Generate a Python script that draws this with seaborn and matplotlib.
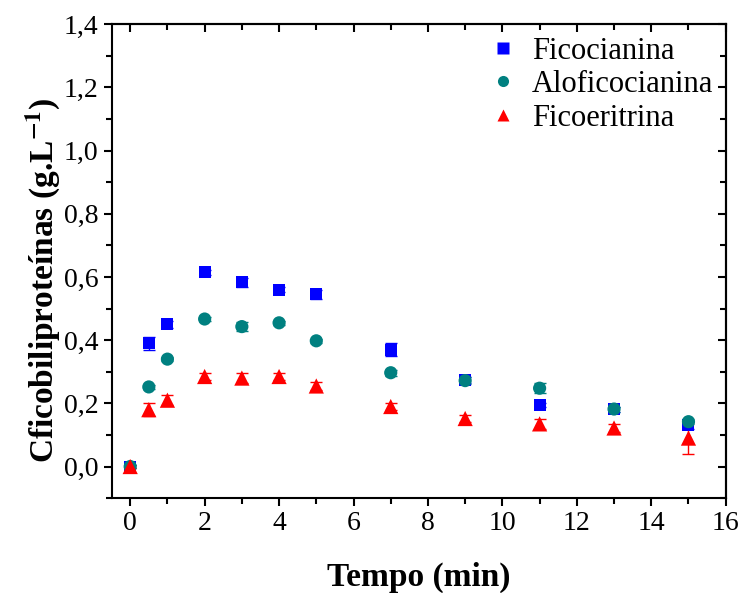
import numpy as np
import pandas as pd
import matplotlib
matplotlib.use("Agg")
import matplotlib.pyplot as plt
from matplotlib.ticker import MultipleLocator, FuncFormatter
import seaborn as sns

# Tempo (min)
tempo = [0, 0.5, 1, 2, 3, 4, 5, 7, 9, 11, 13, 15]

# Concentrations (g/L)
ficocianina = [0.0, 0.39, 0.45, 0.615, 0.583, 0.56, 0.545, 0.37, 0.275, 0.195, 0.182, 0.13]
aloficocianina = [0.0, 0.252, 0.34, 0.467, 0.443, 0.455, 0.398, 0.297, 0.272, 0.248, 0.182, 0.142]
ficoeritrina = [0.0, 0.18, 0.21, 0.285, 0.28, 0.285, 0.255, 0.19, 0.152, 0.135, 0.122, 0.09]

# standard deviations
err_fc = [0.005, 0.02, 0.01, 0.008, 0.015, 0.008, 0.015, 0.02, 0.01, 0.006, 0.008, 0.01]
err_afc = [0.005, 0.006, 0.006, 0.006, 0.015, 0.006, 0.006, 0.01, 0.012, 0.015, 0.008, 0.008]
err_fe = [0.005, 0.02, 0.015, 0.012, 0.015, 0.012, 0.012, 0.012, 0.012, 0.015, 0.012, 0.05]

series = ["Ficocianina", "Aloficocianina", "Ficoeritrina"]
colors = {"Ficocianina": "#0000FF", "Aloficocianina": "#008080", "Ficoeritrina": "#FF0000"}
markers = {"Ficocianina": "s", "Aloficocianina": "o", "Ficoeritrina": "^"}
sizes = {"Ficocianina": 75, "Aloficocianina": 90, "Ficoeritrina": 120}

df = pd.DataFrame({
    "Tempo": tempo * 3,
    "Conc": ficocianina + aloficocianina + ficoeritrina,
    "Erro": err_fc + err_afc + err_fe,
    "Ficobiliproteina": [s for s in series for _ in tempo],
})

sns.set_style("ticks")
plt.rcParams["font.family"] = ["Liberation Serif", "DejaVu Serif"]
plt.rcParams["mathtext.fontset"] = "stix"
for k in ["text.color", "axes.labelcolor", "xtick.color", "ytick.color", "axes.edgecolor"]:
    plt.rcParams[k] = "black"

fig = plt.figure(figsize=(7.39, 5.93), dpi=100)
ax = fig.add_axes([0.151, 0.160, 0.831, 0.799])

# error bars first
for name in series:
    d = df[df["Ficobiliproteina"] == name]
    ax.errorbar(d["Tempo"], d["Conc"], yerr=d["Erro"], fmt="none",
                ecolor=colors[name], elinewidth=1.0, capsize=4, capthick=1.0, zorder=2)

sns.scatterplot(data=df, x="Tempo", y="Conc", hue="Ficobiliproteina", style="Ficobiliproteina",
                size="Ficobiliproteina", sizes=sizes,
                palette=colors, markers=markers, hue_order=series, style_order=series,
                size_order=series, edgecolor="none", ax=ax, zorder=3)

ax.set_xlim(-0.5, 16)
ax.set_ylim(-0.1, 1.4)
ax.xaxis.set_major_locator(MultipleLocator(2))
ax.xaxis.set_minor_locator(MultipleLocator(1))
ax.yaxis.set_major_locator(MultipleLocator(0.2))
ax.yaxis.set_minor_locator(MultipleLocator(0.1))
ax.yaxis.set_major_formatter(FuncFormatter(lambda v, p: f"{v:.1f}".replace(".", ",")))

ax.tick_params(axis="both", which="major", direction="out", length=6, width=1.5,
               labelsize=20, top=False, right=False)
ax.tick_params(axis="both", which="minor", direction="out", length=4, width=1.5,
               top=False, right=False)
for side in ["top", "right", "bottom", "left"]:
    ax.spines[side].set_linewidth(1.5)
    ax.spines[side].set_visible(True)

# inward ticks on top/right
ax2 = ax.secondary_xaxis("top")
ax2.xaxis.set_major_locator(MultipleLocator(2))
ax2.xaxis.set_minor_locator(MultipleLocator(1))
ax2.tick_params(which="major", direction="in", length=6, width=1.5, labeltop=False)
ax2.tick_params(which="minor", direction="in", length=4, width=1.5)
ax2.spines["top"].set_linewidth(1.5)
ay2 = ax.secondary_yaxis("right")
ay2.yaxis.set_major_locator(MultipleLocator(0.2))
ay2.yaxis.set_minor_locator(MultipleLocator(0.1))
ay2.tick_params(which="major", direction="in", length=6, width=1.5, labelright=False)
ay2.tick_params(which="minor", direction="in", length=4, width=1.5)
ay2.spines["right"].set_linewidth(1.5)

ax.set_xlabel("Tempo (min)", fontsize=24, fontweight="bold", labelpad=18)
ax.set_ylabel("Cficobiliproteínas (g.L$^{\\mathbf{-1}}$)", fontsize=24, fontweight="bold")
ax.yaxis.set_label_coords(-0.08, 0.46)

handles, labels = ax.get_legend_handles_labels()
for h in handles:
    try:
        h.set_markersize(8)
    except AttributeError:
        pass
ax.legend(handles, labels, loc="upper right", frameon=False, fontsize=22,
          handlelength=1.0, handletextpad=0.45, borderaxespad=0.0, labelspacing=0.15,
          bbox_to_anchor=(1.0, 1.0))

fig.savefig("out.png", dpi=100)
